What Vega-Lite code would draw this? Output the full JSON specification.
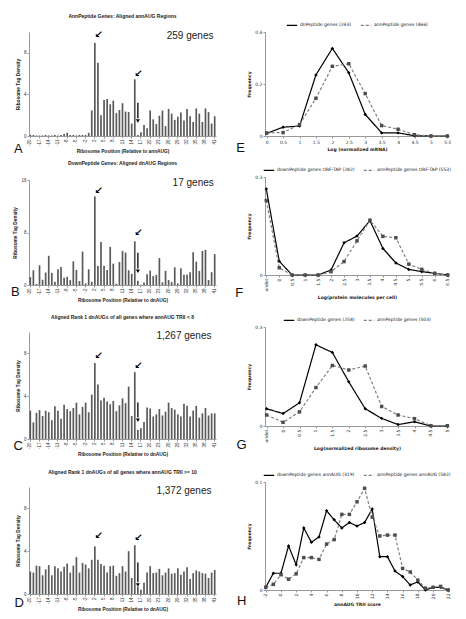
{
"$schema": "https://vega.github.io/schema/vega-lite/v6.json",
"autosize": {"type": "pad"},
"padding": {"left": 10, "top": 14, "right": 0, "bottom": 0},
"background": "white",
"datasets": {
"barA": [{"pos":-20,"val":0.1},{"pos":-19,"val":0.1},{"pos":-18,"val":0.05},{"pos":-17,"val":0.05},{"pos":-16,"val":0.05},{"pos":-15,"val":0.1},{"pos":-14,"val":0.05},{"pos":-13,"val":0.05},{"pos":-12,"val":0.1},{"pos":-11,"val":0.05},{"pos":-10,"val":0.1},{"pos":-9,"val":0.2},{"pos":-8,"val":0.3},{"pos":-7,"val":0.1},{"pos":-6,"val":0.1},{"pos":-5,"val":0.05},{"pos":-4,"val":0.1},{"pos":-3,"val":0.1},{"pos":-2,"val":0.1},{"pos":-1,"val":0.3},{"pos":1,"val":2.45},{"pos":2,"val":8.95},{"pos":3,"val":7.05},{"pos":4,"val":2.0},{"pos":5,"val":3.45},{"pos":6,"val":3.55},{"pos":7,"val":3.05},{"pos":8,"val":3.4},{"pos":9,"val":2.2},{"pos":10,"val":2.5},{"pos":11,"val":3.15},{"pos":12,"val":2.35},{"pos":13,"val":2.3},{"pos":14,"val":1.2},{"pos":15,"val":5.45},{"pos":16,"val":0.1},{"pos":17,"val":0.35},{"pos":18,"val":1.05},{"pos":19,"val":0.75},{"pos":20,"val":2.45},{"pos":21,"val":1.6},{"pos":22,"val":1.15},{"pos":23,"val":1.95},{"pos":24,"val":2.45},{"pos":25,"val":0.95},{"pos":26,"val":2.6},{"pos":27,"val":2.15},{"pos":28,"val":1.55},{"pos":29,"val":1.85},{"pos":30,"val":2.25},{"pos":31,"val":1.5},{"pos":32,"val":2.6},{"pos":33,"val":1.9},{"pos":34,"val":1.35},{"pos":35,"val":2.65},{"pos":36,"val":2.15},{"pos":37,"val":1.35},{"pos":38,"val":2.65},{"pos":39,"val":2.3},{"pos":40,"val":1.2},{"pos":41,"val":1.9}],
"barB": [{"pos":-20,"val":1.2},{"pos":-19,"val":2.25},{"pos":-18,"val":0.15},{"pos":-17,"val":3.0},{"pos":-16,"val":0.8},{"pos":-15,"val":1.9},{"pos":-14,"val":4.45},{"pos":-13,"val":1.85},{"pos":-12,"val":0.5},{"pos":-11,"val":2.4},{"pos":-10,"val":2.75},{"pos":-9,"val":1.1},{"pos":-8,"val":1.25},{"pos":-7,"val":0.75},{"pos":-6,"val":3.6},{"pos":-5,"val":2.3},{"pos":-4,"val":0.6},{"pos":-3,"val":5.1},{"pos":-2,"val":0.25},{"pos":-1,"val":2.4},{"pos":1,"val":0.5},{"pos":2,"val":13.5},{"pos":3,"val":2.9},{"pos":4,"val":6.55},{"pos":5,"val":2.95},{"pos":6,"val":2.3},{"pos":7,"val":5.8},{"pos":8,"val":3.25},{"pos":9,"val":0.2},{"pos":10,"val":3.5},{"pos":11,"val":5.2},{"pos":12,"val":4.95},{"pos":13,"val":2.25},{"pos":14,"val":1.7},{"pos":15,"val":6.65},{"pos":16,"val":0.65},{"pos":17,"val":0.05},{"pos":18,"val":0.4},{"pos":19,"val":1.65},{"pos":20,"val":2.2},{"pos":21,"val":1.35},{"pos":22,"val":1.55},{"pos":23,"val":4.1},{"pos":24,"val":0.4},{"pos":25,"val":2.15},{"pos":26,"val":0.75},{"pos":27,"val":0.45},{"pos":28,"val":2.7},{"pos":29,"val":0.25},{"pos":30,"val":2.55},{"pos":31,"val":1.55},{"pos":32,"val":1.55},{"pos":33,"val":1.95},{"pos":34,"val":5.0},{"pos":35,"val":3.55},{"pos":36,"val":2.15},{"pos":37,"val":5.2},{"pos":38,"val":5.35},{"pos":39,"val":0.75},{"pos":40,"val":1.95},{"pos":41,"val":4.7}],
"barC": [{"pos":-20,"val":2.65},{"pos":-19,"val":1.55},{"pos":-18,"val":2.45},{"pos":-17,"val":2.7},{"pos":-16,"val":2.15},{"pos":-15,"val":2.65},{"pos":-14,"val":2.5},{"pos":-13,"val":1.75},{"pos":-12,"val":3.05},{"pos":-11,"val":2.65},{"pos":-10,"val":1.9},{"pos":-9,"val":3.2},{"pos":-8,"val":2.8},{"pos":-7,"val":2.6},{"pos":-6,"val":2.9},{"pos":-5,"val":3.4},{"pos":-4,"val":2.3},{"pos":-3,"val":3.0},{"pos":-2,"val":3.4},{"pos":-1,"val":2.5},{"pos":1,"val":4.15},{"pos":2,"val":7.1},{"pos":3,"val":5.1},{"pos":4,"val":3.6},{"pos":5,"val":3.85},{"pos":6,"val":3.5},{"pos":7,"val":3.25},{"pos":8,"val":3.55},{"pos":9,"val":2.6},{"pos":10,"val":3.15},{"pos":11,"val":3.8},{"pos":12,"val":3.35},{"pos":13,"val":4.9},{"pos":14,"val":2.15},{"pos":15,"val":6.25},{"pos":16,"val":0.85},{"pos":17,"val":1.0},{"pos":18,"val":1.6},{"pos":19,"val":2.95},{"pos":20,"val":2.85},{"pos":21,"val":2.1},{"pos":22,"val":2.3},{"pos":23,"val":2.8},{"pos":24,"val":2.2},{"pos":25,"val":2.55},{"pos":26,"val":3.4},{"pos":27,"val":2.9},{"pos":28,"val":2.75},{"pos":29,"val":2.3},{"pos":30,"val":2.1},{"pos":31,"val":3.3},{"pos":32,"val":3.1},{"pos":33,"val":2.1},{"pos":34,"val":2.65},{"pos":35,"val":3.1},{"pos":36,"val":2.0},{"pos":37,"val":2.4},{"pos":38,"val":2.9},{"pos":39,"val":2.2},{"pos":40,"val":2.4},{"pos":41,"val":2.4}],
"barD": [{"pos":-20,"val":2.1},{"pos":-19,"val":2.0},{"pos":-18,"val":2.65},{"pos":-17,"val":2.6},{"pos":-16,"val":1.75},{"pos":-15,"val":2.3},{"pos":-14,"val":2.7},{"pos":-13,"val":1.75},{"pos":-12,"val":2.6},{"pos":-11,"val":2.4},{"pos":-10,"val":2.1},{"pos":-9,"val":2.55},{"pos":-8,"val":2.85},{"pos":-7,"val":2.0},{"pos":-6,"val":2.65},{"pos":-5,"val":3.45},{"pos":-4,"val":2.0},{"pos":-3,"val":2.9},{"pos":-2,"val":2.75},{"pos":-1,"val":2.4},{"pos":1,"val":3.2},{"pos":2,"val":4.45},{"pos":3,"val":3.2},{"pos":4,"val":2.8},{"pos":5,"val":2.65},{"pos":6,"val":2.0},{"pos":7,"val":2.6},{"pos":8,"val":2.65},{"pos":9,"val":1.7},{"pos":10,"val":1.95},{"pos":11,"val":2.6},{"pos":12,"val":2.1},{"pos":13,"val":4.0},{"pos":14,"val":1.5},{"pos":15,"val":4.55},{"pos":16,"val":0.7},{"pos":17,"val":0.4},{"pos":18,"val":1.05},{"pos":19,"val":2.0},{"pos":20,"val":2.6},{"pos":21,"val":1.95},{"pos":22,"val":2.0},{"pos":23,"val":2.35},{"pos":24,"val":1.75},{"pos":25,"val":2.0},{"pos":26,"val":2.4},{"pos":27,"val":1.9},{"pos":28,"val":1.95},{"pos":29,"val":2.4},{"pos":30,"val":1.8},{"pos":31,"val":2.1},{"pos":32,"val":2.5},{"pos":33,"val":1.4},{"pos":34,"val":1.95},{"pos":35,"val":2.2},{"pos":36,"val":2.1},{"pos":37,"val":1.95},{"pos":38,"val":1.9},{"pos":39,"val":1.5},{"pos":40,"val":2.0},{"pos":41,"val":2.25}],
"lineE": [
{"x":"0","s":"dnPeptide genes (243)","f":0.01},{"x":"0.5","s":"dnPeptide genes (243)","f":0.034},{"x":"1","s":"dnPeptide genes (243)","f":0.038},{"x":"1.5","s":"dnPeptide genes (243)","f":0.235},{"x":"2","s":"dnPeptide genes (243)","f":0.337},{"x":"2.5","s":"dnPeptide genes (243)","f":0.243},{"x":"3","s":"dnPeptide genes (243)","f":0.083},{"x":"3.5","s":"dnPeptide genes (243)","f":0.012},{"x":"4","s":"dnPeptide genes (243)","f":0.012},{"x":"4.5","s":"dnPeptide genes (243)","f":0.001},{"x":"5","s":"dnPeptide genes (243)","f":0},{"x":"5.5","s":"dnPeptide genes (243)","f":0},
{"x":"0","s":"annPeptide genes (466)","f":0.012},{"x":"0.5","s":"annPeptide genes (466)","f":0.013},{"x":"1","s":"annPeptide genes (466)","f":0.044},{"x":"1.5","s":"annPeptide genes (466)","f":0.145},{"x":"2","s":"annPeptide genes (466)","f":0.268},{"x":"2.5","s":"annPeptide genes (466)","f":0.278},{"x":"3","s":"annPeptide genes (466)","f":0.163},{"x":"3.5","s":"annPeptide genes (466)","f":0.04},{"x":"4","s":"annPeptide genes (466)","f":0.026},{"x":"4.5","s":"annPeptide genes (466)","f":0.005},{"x":"5","s":"annPeptide genes (466)","f":0},{"x":"5.5","s":"annPeptide genes (466)","f":0}],
"lineF": [
{"x":"undet","s":"downPeptide genes ORF-TAP (282)","f":0.307},{"x":"0","s":"downPeptide genes ORF-TAP (282)","f":0.049},{"x":"0.5","s":"downPeptide genes ORF-TAP (282)","f":0},{"x":"1","s":"downPeptide genes ORF-TAP (282)","f":0},{"x":"1.5","s":"downPeptide genes ORF-TAP (282)","f":0},{"x":"2","s":"downPeptide genes ORF-TAP (282)","f":0.018},{"x":"2.5","s":"downPeptide genes ORF-TAP (282)","f":0.115},{"x":"3","s":"downPeptide genes ORF-TAP (282)","f":0.139},{"x":"3.5","s":"downPeptide genes ORF-TAP (282)","f":0.194},{"x":"4","s":"downPeptide genes ORF-TAP (282)","f":0.095},{"x":"4.5","s":"downPeptide genes ORF-TAP (282)","f":0.043},{"x":"5","s":"downPeptide genes ORF-TAP (282)","f":0.02},{"x":"5.5","s":"downPeptide genes ORF-TAP (282)","f":0.012},{"x":"6","s":"downPeptide genes ORF-TAP (282)","f":0.006},{"x":"6.5","s":"downPeptide genes ORF-TAP (282)","f":0},
{"x":"undet","s":"annPeptide genes ORF-TAP (553)","f":0.266},{"x":"0","s":"annPeptide genes ORF-TAP (553)","f":0.026},{"x":"0.5","s":"annPeptide genes ORF-TAP (553)","f":0},{"x":"1","s":"annPeptide genes ORF-TAP (553)","f":0},{"x":"1.5","s":"annPeptide genes ORF-TAP (553)","f":0},{"x":"2","s":"annPeptide genes ORF-TAP (553)","f":0.012},{"x":"2.5","s":"annPeptide genes ORF-TAP (553)","f":0.048},{"x":"3","s":"annPeptide genes ORF-TAP (553)","f":0.122},{"x":"3.5","s":"annPeptide genes ORF-TAP (553)","f":0.196},{"x":"4","s":"annPeptide genes ORF-TAP (553)","f":0.138},{"x":"4.5","s":"annPeptide genes ORF-TAP (553)","f":0.133},{"x":"5","s":"annPeptide genes ORF-TAP (553)","f":0.039},{"x":"5.5","s":"annPeptide genes ORF-TAP (553)","f":0.02},{"x":"6","s":"annPeptide genes ORF-TAP (553)","f":0.006},{"x":"6.5","s":"annPeptide genes ORF-TAP (553)","f":0}],
"lineG": [
{"x":"undet","s":"downPeptide genes (258)","f":0.061},{"x":"0","s":"downPeptide genes (258)","f":0.044},{"x":"0.5","s":"downPeptide genes (258)","f":0.082},{"x":"1","s":"downPeptide genes (258)","f":0.287},{"x":"1.5","s":"downPeptide genes (258)","f":0.26},{"x":"2","s":"downPeptide genes (258)","f":0.156},{"x":"2.5","s":"downPeptide genes (258)","f":0.061},{"x":"3","s":"downPeptide genes (258)","f":0.027},{"x":"3.5","s":"downPeptide genes (258)","f":0.005},{"x":"4","s":"downPeptide genes (258)","f":0.015},{"x":"4.5","s":"downPeptide genes (258)","f":0},{"x":"5","s":"downPeptide genes (258)","f":0},
{"x":"undet","s":"annPeptide genes (503)","f":0.039},{"x":"0","s":"annPeptide genes (503)","f":0.013},{"x":"0.5","s":"annPeptide genes (503)","f":0.05},{"x":"1","s":"annPeptide genes (503)","f":0.136},{"x":"1.5","s":"annPeptide genes (503)","f":0.214},{"x":"2","s":"annPeptide genes (503)","f":0.198},{"x":"2.5","s":"annPeptide genes (503)","f":0.212},{"x":"3","s":"annPeptide genes (503)","f":0.069},{"x":"3.5","s":"annPeptide genes (503)","f":0.039},{"x":"4","s":"annPeptide genes (503)","f":0.026},{"x":"4.5","s":"annPeptide genes (503)","f":0.001},{"x":"5","s":"annPeptide genes (503)","f":0.001}],
"lineH": [
{"x":-2,"s":"downPeptide genes annAUG (319)","f":0.003},{"x":-1,"s":"downPeptide genes annAUG (319)","f":0.0186},{"x":0,"s":"downPeptide genes annAUG (319)","f":0.0186},{"x":1,"s":"downPeptide genes annAUG (319)","f":0.049},{"x":2,"s":"downPeptide genes annAUG (319)","f":0.028},{"x":3,"s":"downPeptide genes annAUG (319)","f":0.069},{"x":4,"s":"downPeptide genes annAUG (319)","f":0.053},{"x":5,"s":"downPeptide genes annAUG (319)","f":0.059},{"x":6,"s":"downPeptide genes annAUG (319)","f":0.088},{"x":7,"s":"downPeptide genes annAUG (319)","f":0.078},{"x":8,"s":"downPeptide genes annAUG (319)","f":0.069},{"x":9,"s":"downPeptide genes annAUG (319)","f":0.075},{"x":10,"s":"downPeptide genes annAUG (319)","f":0.071},{"x":11,"s":"downPeptide genes annAUG (319)","f":0.075},{"x":12,"s":"downPeptide genes annAUG (319)","f":0.09},{"x":13,"s":"downPeptide genes annAUG (319)","f":0.037},{"x":14,"s":"downPeptide genes annAUG (319)","f":0.037},{"x":15,"s":"downPeptide genes annAUG (319)","f":0.021},{"x":16,"s":"downPeptide genes annAUG (319)","f":0.015},{"x":17,"s":"downPeptide genes annAUG (319)","f":0.0056},{"x":18,"s":"downPeptide genes annAUG (319)","f":0.009},{"x":19,"s":"downPeptide genes annAUG (319)","f":0},{"x":20,"s":"downPeptide genes annAUG (319)","f":0.003},{"x":21,"s":"downPeptide genes annAUG (319)","f":0.003},{"x":22,"s":"downPeptide genes annAUG (319)","f":0},
{"x":-2,"s":"annPeptide genes annAUG (582)","f":0.003},{"x":-1,"s":"annPeptide genes annAUG (582)","f":0.0063},{"x":0,"s":"annPeptide genes annAUG (582)","f":0.017},{"x":1,"s":"annPeptide genes annAUG (582)","f":0.012},{"x":2,"s":"annPeptide genes annAUG (582)","f":0.018},{"x":3,"s":"annPeptide genes annAUG (582)","f":0.036},{"x":4,"s":"annPeptide genes annAUG (582)","f":0.036},{"x":5,"s":"annPeptide genes annAUG (582)","f":0.034},{"x":6,"s":"annPeptide genes annAUG (582)","f":0.051},{"x":7,"s":"annPeptide genes annAUG (582)","f":0.056},{"x":8,"s":"annPeptide genes annAUG (582)","f":0.084},{"x":9,"s":"annPeptide genes annAUG (582)","f":0.084},{"x":10,"s":"annPeptide genes annAUG (582)","f":0.098},{"x":11,"s":"annPeptide genes annAUG (582)","f":0.113},{"x":12,"s":"annPeptide genes annAUG (582)","f":0.081},{"x":13,"s":"annPeptide genes annAUG (582)","f":0.06},{"x":14,"s":"annPeptide genes annAUG (582)","f":0.061},{"x":15,"s":"annPeptide genes annAUG (582)","f":0.061},{"x":16,"s":"annPeptide genes annAUG (582)","f":0.024},{"x":17,"s":"annPeptide genes annAUG (582)","f":0.02},{"x":18,"s":"annPeptide genes annAUG (582)","f":0.011},{"x":19,"s":"annPeptide genes annAUG (582)","f":0.002},{"x":20,"s":"annPeptide genes annAUG (582)","f":0.003},{"x":21,"s":"annPeptide genes annAUG (582)","f":0.004},{"x":22,"s":"annPeptide genes annAUG (582)","f":0}]
},
"resolve": {"scale": {"color": "independent", "strokeDash": "independent", "fill": "independent", "shape": "independent"}, "legend": {"color": "independent", "strokeDash": "independent"}},
"bounds": "flush",
"spacing": 236,
"hconcat": [
{"bounds": "flush", "spacing": 44, "vconcat": [
 {"width": 187, "height": 104, "title": {"text": "AnnPeptide Genes: Aligned annAUG Regions"},
  "layer": [
   {"data": {"name": "barA"}, "mark": {"type": "bar", "color": "#5a5a5a"},
    "encoding": {"x": {"field": "pos", "type": "ordinal", "scale": {"paddingInner": 0.45, "paddingOuter": 0.15}, "axis": {"values": [-20,-17,-14,-11,-8,-5,-2,2,5,8,11,14,17,20,23,26,29,32,35,38,41], "labelAngle": -90, "labelOverlap": false, "title": "Ribosome Position (Relative to annAUG)"}},
     "y": {"field": "val", "type": "quantitative", "scale": {"domain": [0, 10], "nice": false}, "axis": {"values": [0,1,2,3,4,5,6,7,8,9,10], "labelOverlap": false, "title": "Ribosome Tag Density"}}}},
   {"data": {"values": [{}]}, "mark": {"type": "text", "font": "Liberation Sans", "fontSize": 10, "color": "#222"}, "encoding": {"x": {"datum": 33, "type": "ordinal"}, "y": {"datum": 9.6, "type": "quantitative"}, "text": {"value": "259 genes"}}},
   {"data": {"values": [{}]}, "mark": {"type": "text", "font": "Liberation Sans", "fontSize": 13, "dx": -12, "color": "#111"}, "encoding": {"x": {"datum": -20, "type": "ordinal"}, "y": {"datum": -1.25, "type": "quantitative"}, "text": {"value": "A"}}},
   {"data": {"values": [{}]}, "mark": {"type": "text", "font": "DejaVu Sans", "fontWeight": "bold", "fontSize": 10, "dx": 4}, "encoding": {"x": {"datum": 2, "type": "ordinal"}, "y": {"datum": 9.7, "type": "quantitative"}, "text": {"value": "↙"}}},
   {"data": {"values": [{}]}, "mark": {"type": "text", "font": "DejaVu Sans", "fontWeight": "bold", "fontSize": 10, "dx": 4}, "encoding": {"x": {"datum": 15, "type": "ordinal"}, "y": {"datum": 6.0, "type": "quantitative"}, "text": {"value": "↙"}}},
   {"data": {"values": [{}]}, "mark": {"type": "rule", "strokeWidth": 1.3, "color": "#000"}, "encoding": {"x": {"datum": 16, "type": "ordinal"}, "y": {"datum": 3.2, "type": "quantitative"}, "y2": {"datum": 1.7}}},
   {"data": {"values": [{}]}, "mark": {"type": "point", "shape": "triangle-down", "filled": true, "size": 16, "color": "#000", "opacity": 1}, "encoding": {"x": {"datum": 16, "type": "ordinal"}, "y": {"datum": 1.45, "type": "quantitative"}}}
  ]},
 {"bounds": "flush", "spacing": 47, "vconcat": [
  {"width": 187, "height": 105, "title": {"text": "DownPeptide Genes: Aligned dnAUG Regions"},
   "layer": [
    {"data": {"name": "barB"}, "mark": {"type": "bar", "color": "#5a5a5a"},
     "encoding": {"x": {"field": "pos", "type": "ordinal", "scale": {"paddingInner": 0.45, "paddingOuter": 0.15}, "axis": {"values": [-20,-17,-14,-11,-8,-5,-2,2,5,8,11,14,17,20,23,26,29,32,35,38,41], "labelAngle": -90, "labelOverlap": false, "title": "Ribosome Position (Relative to dnAUG)"}},
      "y": {"field": "val", "type": "quantitative", "scale": {"domain": [0, 16], "nice": false}, "axis": {"values": [0,2,4,6,8,10,12,14,16], "labelOverlap": false, "title": "Ribosome Tag Density"}}}},
    {"data": {"values": [{}]}, "mark": {"type": "text", "font": "Liberation Sans", "fontSize": 10, "color": "#222"}, "encoding": {"x": {"datum": 34, "type": "ordinal"}, "y": {"datum": 15.5, "type": "quantitative"}, "text": {"value": "17 genes"}}},
    {"data": {"values": [{}]}, "mark": {"type": "text", "font": "Liberation Sans", "fontSize": 13, "dx": -15, "color": "#111"}, "encoding": {"x": {"datum": -20, "type": "ordinal"}, "y": {"datum": -1.1, "type": "quantitative"}, "text": {"value": "B"}}},
    {"data": {"values": [{}]}, "mark": {"type": "text", "font": "DejaVu Sans", "fontWeight": "bold", "fontSize": 10, "dx": 4}, "encoding": {"x": {"datum": 2, "type": "ordinal"}, "y": {"datum": 14.3, "type": "quantitative"}, "text": {"value": "↙"}}},
    {"data": {"values": [{}]}, "mark": {"type": "text", "font": "DejaVu Sans", "fontWeight": "bold", "fontSize": 10, "dx": 4}, "encoding": {"x": {"datum": 15, "type": "ordinal"}, "y": {"datum": 8.0, "type": "quantitative"}, "text": {"value": "↙"}}},
    {"data": {"values": [{}]}, "mark": {"type": "rule", "strokeWidth": 1.3, "color": "#000"}, "encoding": {"x": {"datum": 16, "type": "ordinal"}, "y": {"datum": 4.9, "type": "quantitative"}, "y2": {"datum": 2.5}}},
    {"data": {"values": [{}]}, "mark": {"type": "point", "shape": "triangle-down", "filled": true, "size": 16, "color": "#000", "opacity": 1}, "encoding": {"x": {"datum": 16, "type": "ordinal"}, "y": {"datum": 2.1, "type": "quantitative"}}}
   ]},
  {"bounds": "flush", "spacing": 48, "vconcat": [
   {"width": 187, "height": 107, "title": {"text": "Aligned Rank 1 dnAUGs of all genes where annAUG TRII < 8"},
    "layer": [
     {"data": {"name": "barC"}, "mark": {"type": "bar", "color": "#5a5a5a"},
      "encoding": {"x": {"field": "pos", "type": "ordinal", "scale": {"paddingInner": 0.45, "paddingOuter": 0.15}, "axis": {"values": [-20,-17,-14,-11,-8,-5,-2,2,5,8,11,14,17,20,23,26,29,32,35,38,41], "labelAngle": -90, "labelOverlap": false, "title": "Ribosome Position (Relative to dnAUG)"}},
       "y": {"field": "val", "type": "quantitative", "scale": {"domain": [0, 10], "nice": false}, "axis": {"values": [0,1,2,3,4,5,6,7,8,9,10], "labelOverlap": false, "title": "Ribosome Tag Density"}}}},
     {"data": {"values": [{}]}, "mark": {"type": "text", "font": "Liberation Sans", "fontSize": 10, "color": "#222"}, "encoding": {"x": {"datum": 31, "type": "ordinal"}, "y": {"datum": 9.6, "type": "quantitative"}, "text": {"value": "1,267 genes"}}},
     {"data": {"values": [{}]}, "mark": {"type": "text", "font": "Liberation Sans", "fontSize": 13, "dx": -12, "color": "#111"}, "encoding": {"x": {"datum": -20, "type": "ordinal"}, "y": {"datum": -0.65, "type": "quantitative"}, "text": {"value": "C"}}},
     {"data": {"values": [{}]}, "mark": {"type": "text", "font": "DejaVu Sans", "fontWeight": "bold", "fontSize": 10, "dx": 4}, "encoding": {"x": {"datum": 2, "type": "ordinal"}, "y": {"datum": 7.75, "type": "quantitative"}, "text": {"value": "↙"}}},
     {"data": {"values": [{}]}, "mark": {"type": "text", "font": "DejaVu Sans", "fontWeight": "bold", "fontSize": 10, "dx": 4}, "encoding": {"x": {"datum": 15, "type": "ordinal"}, "y": {"datum": 6.8, "type": "quantitative"}, "text": {"value": "↙"}}},
     {"data": {"values": [{}]}, "mark": {"type": "rule", "strokeWidth": 1.3, "color": "#000"}, "encoding": {"x": {"datum": 16, "type": "ordinal"}, "y": {"datum": 3.4, "type": "quantitative"}, "y2": {"datum": 2.0}}},
     {"data": {"values": [{}]}, "mark": {"type": "point", "shape": "triangle-down", "filled": true, "size": 16, "color": "#000", "opacity": 1}, "encoding": {"x": {"datum": 16, "type": "ordinal"}, "y": {"datum": 1.75, "type": "quantitative"}}}
    ]},
   {"width": 187, "height": 107, "title": {"text": "Aligned Rank 1 dnAUGs of all genes where annAUG TRII >= 10"},
    "layer": [
     {"data": {"name": "barD"}, "mark": {"type": "bar", "color": "#5a5a5a"},
      "encoding": {"x": {"field": "pos", "type": "ordinal", "scale": {"paddingInner": 0.45, "paddingOuter": 0.15}, "axis": {"values": [-20,-17,-14,-11,-8,-5,-2,2,5,8,11,14,17,20,23,26,29,32,35,38,41], "labelAngle": -90, "labelOverlap": false, "title": "Ribosome Position (Relative to dnAUG)"}},
       "y": {"field": "val", "type": "quantitative", "scale": {"domain": [0, 10], "nice": false}, "axis": {"values": [0,1,2,3,4,5,6,7,8,9,10], "labelOverlap": false, "title": "Ribosome Tag Density"}}}},
     {"data": {"values": [{}]}, "mark": {"type": "text", "font": "Liberation Sans", "fontSize": 10, "color": "#222"}, "encoding": {"x": {"datum": 31, "type": "ordinal"}, "y": {"datum": 9.6, "type": "quantitative"}, "text": {"value": "1,372 genes"}}},
     {"data": {"values": [{}]}, "mark": {"type": "text", "font": "Liberation Sans", "fontSize": 13, "dx": -11, "color": "#111"}, "encoding": {"x": {"datum": -20, "type": "ordinal"}, "y": {"datum": -0.85, "type": "quantitative"}, "text": {"value": "D"}}},
     {"data": {"values": [{}]}, "mark": {"type": "text", "font": "DejaVu Sans", "fontWeight": "bold", "fontSize": 10, "dx": 4}, "encoding": {"x": {"datum": 2, "type": "ordinal"}, "y": {"datum": 5.4, "type": "quantitative"}, "text": {"value": "↙"}}},
     {"data": {"values": [{}]}, "mark": {"type": "text", "font": "DejaVu Sans", "fontWeight": "bold", "fontSize": 10, "dx": 4}, "encoding": {"x": {"datum": 15, "type": "ordinal"}, "y": {"datum": 5.2, "type": "quantitative"}, "text": {"value": "↙"}}},
     {"data": {"values": [{}]}, "mark": {"type": "rule", "strokeWidth": 1.3, "color": "#000"}, "encoding": {"x": {"datum": 16, "type": "ordinal"}, "y": {"datum": 2.95, "type": "quantitative"}, "y2": {"datum": 1.1}}},
     {"data": {"values": [{}]}, "mark": {"type": "point", "shape": "triangle-down", "filled": true, "size": 16, "color": "#000", "opacity": 1}, "encoding": {"x": {"datum": 16, "type": "ordinal"}, "y": {"datum": 0.85, "type": "quantitative"}}}
    ]}
  ]}
 ]}
]},
{"bounds": "flush", "spacing": 41,
 "resolve": {"scale": {"color": "independent", "strokeDash": "independent", "fill": "independent", "shape": "independent"}, "legend": {"color": "independent", "strokeDash": "independent"}},
 "vconcat": [
 {"width": 184, "height": 104,
  "layer": [
   {"data": {"name": "lineE"}, "mark": {"type": "line", "strokeWidth": 1.2},
    "encoding": {"x": {"field": "x", "type": "ordinal", "scale": {"type": "point", "padding": 0.1, "domain": ["0","0.5","1","1.5","2","2.5","3","3.5","4","4.5","5","5.5"]}, "axis": {"labelAngle": 0, "labelOverlap": false, "title": "Log (normalized mRNA)", "labelFont": "DejaVu Sans", "titleFont": "DejaVu Sans", "titleFontSize": 4.5, "labelFontSize": 4.5}},
     "y": {"field": "f", "type": "quantitative", "scale": {"domain": [0, 0.4], "nice": false}, "axis": {"values": [0,0.05,0.1,0.15,0.2,0.25,0.3,0.35,0.4], "labelOverlap": false, "format": "~g", "title": "Frequency", "labelFont": "DejaVu Sans", "titleFont": "DejaVu Sans", "titleFontSize": 4.5, "labelFontSize": 4.5}},
     "color": {"field": "s", "type": "nominal", "title": null, "sort": null, "scale": {"range": ["#000000", "#808080"]}},
     "strokeDash": {"field": "s", "type": "nominal", "title": null, "sort": null, "scale": {"range": [[1, 0], [3, 2]]}}}},
   {"data": {"name": "lineE"}, "mark": {"type": "point", "filled": true, "opacity": 1, "size": 12, "strokeWidth": 0},
    "encoding": {"x": {"field": "x", "type": "ordinal"}, "y": {"field": "f", "type": "quantitative"},
     "fill": {"field": "s", "type": "nominal", "sort": null, "legend": null, "scale": {"range": ["#000000", "#4d4d4d"]}},
     "shape": {"field": "s", "type": "nominal", "sort": null, "legend": null, "scale": {"range": ["diamond", "square"]}}}},
   {"data": {"values": [{}]}, "mark": {"type": "text", "font": "Liberation Sans", "fontSize": 13, "dx": -26, "color": "#111"}, "encoding": {"x": {"datum": "0", "type": "ordinal"}, "y": {"datum": -0.046, "type": "quantitative"}, "text": {"value": "E"}}}
  ]},
 {"bounds": "flush", "spacing": 52,
  "resolve": {"scale": {"color": "independent", "strokeDash": "independent", "fill": "independent", "shape": "independent"}, "legend": {"color": "independent", "strokeDash": "independent"}},
  "vconcat": [
  {"width": 184, "height": 98,
   "layer": [
    {"data": {"name": "lineF"}, "mark": {"type": "line", "strokeWidth": 1.2},
     "encoding": {"x": {"field": "x", "type": "ordinal", "scale": {"type": "point", "padding": 0.1, "domain": ["undet","0","0.5","1","1.5","2","2.5","3","3.5","4","4.5","5","5.5","6","6.5"]}, "axis": {"labelAngle": -90, "labelOverlap": false, "title": "Log(protein molecules per cell)", "labelFont": "DejaVu Sans", "titleFont": "DejaVu Sans", "titleFontSize": 4.5, "labelFontSize": 4.5}},
      "y": {"field": "f", "type": "quantitative", "scale": {"domain": [0, 0.35], "nice": false}, "axis": {"values": [0,0.05,0.1,0.15,0.2,0.25,0.3,0.35], "labelOverlap": false, "format": "~g", "title": "Frequency", "labelFont": "DejaVu Sans", "titleFont": "DejaVu Sans", "titleFontSize": 4.5, "labelFontSize": 4.5}},
      "color": {"field": "s", "type": "nominal", "title": null, "sort": null, "scale": {"range": ["#000000", "#808080"]}},
      "strokeDash": {"field": "s", "type": "nominal", "title": null, "sort": null, "scale": {"range": [[1, 0], [3, 2]]}}}},
    {"data": {"name": "lineF"}, "mark": {"type": "point", "filled": true, "opacity": 1, "size": 12, "strokeWidth": 0},
     "encoding": {"x": {"field": "x", "type": "ordinal"}, "y": {"field": "f", "type": "quantitative"},
      "fill": {"field": "s", "type": "nominal", "sort": null, "legend": null, "scale": {"range": ["#000000", "#4d4d4d"]}},
      "shape": {"field": "s", "type": "nominal", "sort": null, "legend": null, "scale": {"range": ["diamond", "square"]}}}},
    {"data": {"values": [{}]}, "mark": {"type": "text", "font": "Liberation Sans", "fontSize": 13, "dx": -27, "color": "#111"}, "encoding": {"x": {"datum": "undet", "type": "ordinal"}, "y": {"datum": -0.064, "type": "quantitative"}, "text": {"value": "F"}}}
   ]},
  {"bounds": "flush", "spacing": 56,
   "resolve": {"scale": {"color": "independent", "strokeDash": "independent", "fill": "independent", "shape": "independent"}, "legend": {"color": "independent", "strokeDash": "independent"}},
   "vconcat": [
   {"width": 184, "height": 99,
    "layer": [
     {"data": {"name": "lineG"}, "mark": {"type": "line", "strokeWidth": 1.2},
      "encoding": {"x": {"field": "x", "type": "ordinal", "scale": {"type": "point", "padding": 0.1, "domain": ["undet","0","0.5","1","1.5","2","2.5","3","3.5","4","4.5","5"]}, "axis": {"labelAngle": -90, "labelOverlap": false, "title": "Log(normalized ribosome density)", "labelFont": "DejaVu Sans", "titleFont": "DejaVu Sans", "titleFontSize": 4.5, "labelFontSize": 4.5}},
       "y": {"field": "f", "type": "quantitative", "scale": {"domain": [0, 0.35], "nice": false}, "axis": {"values": [0,0.05,0.1,0.15,0.2,0.25,0.3,0.35], "labelOverlap": false, "format": "~g", "title": "Frequency", "labelFont": "DejaVu Sans", "titleFont": "DejaVu Sans", "titleFontSize": 4.5, "labelFontSize": 4.5}},
       "color": {"field": "s", "type": "nominal", "title": null, "sort": null, "scale": {"range": ["#000000", "#808080"]}},
       "strokeDash": {"field": "s", "type": "nominal", "title": null, "sort": null, "scale": {"range": [[1, 0], [3, 2]]}}}},
     {"data": {"name": "lineG"}, "mark": {"type": "point", "filled": true, "opacity": 1, "size": 12, "strokeWidth": 0},
      "encoding": {"x": {"field": "x", "type": "ordinal"}, "y": {"field": "f", "type": "quantitative"},
       "fill": {"field": "s", "type": "nominal", "sort": null, "legend": null, "scale": {"range": ["#000000", "#4d4d4d"]}},
       "shape": {"field": "s", "type": "nominal", "sort": null, "legend": null, "scale": {"range": ["diamond", "square"]}}}},
     {"data": {"values": [{}]}, "mark": {"type": "text", "font": "Liberation Sans", "fontSize": 13, "dx": -25, "color": "#111"}, "encoding": {"x": {"datum": "undet", "type": "ordinal"}, "y": {"datum": -0.067, "type": "quantitative"}, "text": {"value": "G"}}}
    ]},
   {"width": 184, "height": 108,
    "layer": [
     {"data": {"name": "lineH"}, "mark": {"type": "line", "strokeWidth": 1.2},
      "encoding": {"x": {"field": "x", "type": "ordinal", "scale": {"type": "point", "padding": 0.1}, "axis": {"labelAngle": -90, "labelOverlap": false, "values": [-2,0,2,4,6,8,10,12,14,16,18,20,22], "title": "annAUG TRII score", "labelFont": "DejaVu Sans", "titleFont": "DejaVu Sans", "titleFontSize": 4.5, "labelFontSize": 4.5}},
       "y": {"field": "f", "type": "quantitative", "scale": {"domain": [0, 0.12], "nice": false}, "axis": {"values": [0,0.02,0.04,0.06,0.08,0.1,0.12], "labelOverlap": false, "format": "~g", "title": "Frequency", "labelFont": "DejaVu Sans", "titleFont": "DejaVu Sans", "titleFontSize": 4.5, "labelFontSize": 4.5}},
       "color": {"field": "s", "type": "nominal", "title": null, "sort": null, "scale": {"range": ["#000000", "#808080"]}},
       "strokeDash": {"field": "s", "type": "nominal", "title": null, "sort": null, "scale": {"range": [[1, 0], [3, 2]]}}}},
     {"data": {"name": "lineH"}, "mark": {"type": "point", "filled": true, "opacity": 1, "size": 12, "strokeWidth": 0},
      "encoding": {"x": {"field": "x", "type": "ordinal"}, "y": {"field": "f", "type": "quantitative"},
       "fill": {"field": "s", "type": "nominal", "sort": null, "legend": null, "scale": {"range": ["#000000", "#4d4d4d"]}},
       "shape": {"field": "s", "type": "nominal", "sort": null, "legend": null, "scale": {"range": ["diamond", "square"]}}}},
     {"data": {"values": [{}]}, "mark": {"type": "text", "font": "Liberation Sans", "fontSize": 13, "dx": -24, "color": "#111"}, "encoding": {"x": {"datum": -2, "type": "ordinal"}, "y": {"datum": -0.0122, "type": "quantitative"}, "text": {"value": "H"}}}
    ]}
  ]}
 ]}
]}
],
"config": {
 "view": {"stroke": null},
 "font": "Liberation Sans",
 "title": {"font": "Liberation Sans", "fontSize": 5, "fontWeight": "bold", "color": "#222", "offset": 11, "baseline": "bottom"},
 "axis": {"labelFont": "Liberation Sans", "labelFontSize": 4.5, "labelColor": "#333", "titleFont": "Liberation Sans", "titleFontSize": 4.8, "titleFontWeight": "bold", "titleColor": "#222", "domainColor": "#999", "tickColor": "#999", "tickSize": 2, "grid": false, "labelOverlap": false, "labelPadding": 1, "titlePadding": 3, "labelFlush": false},
 "legend": {"orient": "top", "direction": "horizontal", "labelFont": "DejaVu Sans", "labelFontSize": 4.5, "labelColor": "#222", "symbolType": "stroke", "symbolSize": 110, "symbolStrokeWidth": 1.2, "columnPadding": 6, "offset": 4, "padding": 0, "labelOffset": 2, "labelLimit": 400, "layout": {"top": {"anchor": "middle"}}}
}
}
